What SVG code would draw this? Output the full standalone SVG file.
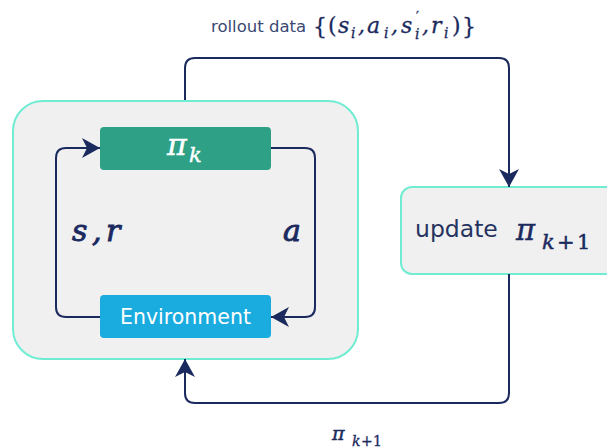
<svg xmlns="http://www.w3.org/2000/svg" width="607" height="448" viewBox="0 0 607 448">
  <style>
    .frame { fill: #f0f0f0; stroke: #70ecd2; stroke-width: 2; }
    .wire { fill: none; stroke: #1b2a5e; stroke-width: 2; }
    .sans { font-family: "DejaVu Sans", Verdana, sans-serif; }
    .math { font-family: "DejaVu Serif", "Liberation Serif", serif; font-style: italic; fill: #1b2a5e; }
    .up { font-style: normal; }
    .heavy { stroke: #1b2a5e; stroke-width: 0.9; }
    .mid { stroke: #1b2a5e; stroke-width: 0.5; }
    .white { fill: #ffffff; stroke: #ffffff; stroke-width: 0.5; }
  </style>
  <defs>
    <marker id="arrow" viewBox="0 0 18 20" refX="18" refY="10" markerWidth="18" markerHeight="20" markerUnits="userSpaceOnUse" orient="auto">
      <path d="M0,0 L18,10 L0,20 L5,10 Z" fill="#1b2a5e"/>
    </marker>
  </defs>

  <!-- rollout container -->
  <g id="rollout-loop">
    <rect class="frame" x="13" y="101" width="345" height="258" rx="30" ry="30"/>
  </g>

  <!-- update node (runs off the right edge) -->
  <g id="update">
    <rect class="frame" x="401" y="187" width="230" height="87" rx="11" ry="11"/>
    <text class="sans" x="415" y="237" font-size="23.5" fill="#25335e">update</text>
    <text class="math mid" x="516" y="240" font-size="29">π</text>
    <text class="math mid" font-size="21"><tspan x="542" y="249">k</tspan><tspan class="up" x="557" y="249">+</tspan><tspan class="up" x="577" y="249">1</tspan></text>
  </g>

  <!-- policy node -->
  <g id="policy">
    <rect x="100" y="127" width="171" height="43" rx="4" ry="4" fill="#2da086"/>
    <text class="math white" x="167" y="155" font-size="30">π</text>
    <text class="math white" x="189" y="162" font-size="21">k</text>
  </g>

  <!-- environment node -->
  <g id="environment">
    <rect x="100" y="295" width="171" height="43" rx="4" ry="4" fill="#1aabdf"/>
    <text class="sans" x="185.5" y="323.5" font-size="20.5" fill="#ffffff" text-anchor="middle">Environment</text>
  </g>

  <!-- connectors -->
  <g id="connectors">
    <path class="wire" d="M185,100 V68 Q185,58 195,58 H499 Q509,58 509,68 V187" marker-end="url(#arrow)"/>
    <path class="wire" d="M509,274 V393 Q509,403 499,403 H195 Q185,403 185,393 V359" marker-end="url(#arrow)"/>
    <path class="wire" d="M100,317 H66 Q56,317 56,307 V158 Q56,148 66,148 H100" marker-end="url(#arrow)"/>
    <path class="wire" d="M271,148 H305 Q315,148 315,158 V307 Q315,317 305,317 H271" marker-end="url(#arrow)"/>
  </g>

  <!-- connector labels -->
  <g id="labels">
    <text class="sans" x="211" y="32" font-size="16.5" fill="#3a4872">rollout data</text>
    <text class="math mid" font-size="22" style="stroke-width:0.3">
      <tspan class="up" x="313" y="34" font-size="22">{</tspan><tspan class="up" x="328" y="33">(</tspan><tspan x="338" y="33">s</tspan><tspan x="351" y="38" font-size="14">i</tspan><tspan x="358" y="33">,</tspan><tspan x="367" y="33">a</tspan><tspan x="384" y="38" font-size="14">i</tspan><tspan x="391" y="33">,</tspan><tspan x="401" y="33">s</tspan><tspan class="up" x="416" y="21" font-size="13">′</tspan><tspan x="415" y="39" font-size="14">i</tspan><tspan x="422" y="33">,</tspan><tspan x="431" y="33">r</tspan><tspan x="444" y="38" font-size="14">i</tspan><tspan class="up" x="452" y="33">)</tspan><tspan class="up" x="462" y="34" font-size="22">}</tspan>
    </text>
    <text class="math heavy" font-size="30"><tspan x="72" y="241">s</tspan><tspan x="92" y="241">,</tspan><tspan x="106" y="241">r</tspan></text>
    <text class="math heavy" x="283" y="241" font-size="30">a</text>
    <text class="math mid" x="332" y="440" font-size="19">π</text>
    <text class="math" font-size="14" style="stroke:#1b2a5e;stroke-width:0.3"><tspan x="352" y="446">k</tspan><tspan class="up" x="361" y="446">+</tspan><tspan class="up" x="373" y="446">1</tspan></text>
  </g>
</svg>
